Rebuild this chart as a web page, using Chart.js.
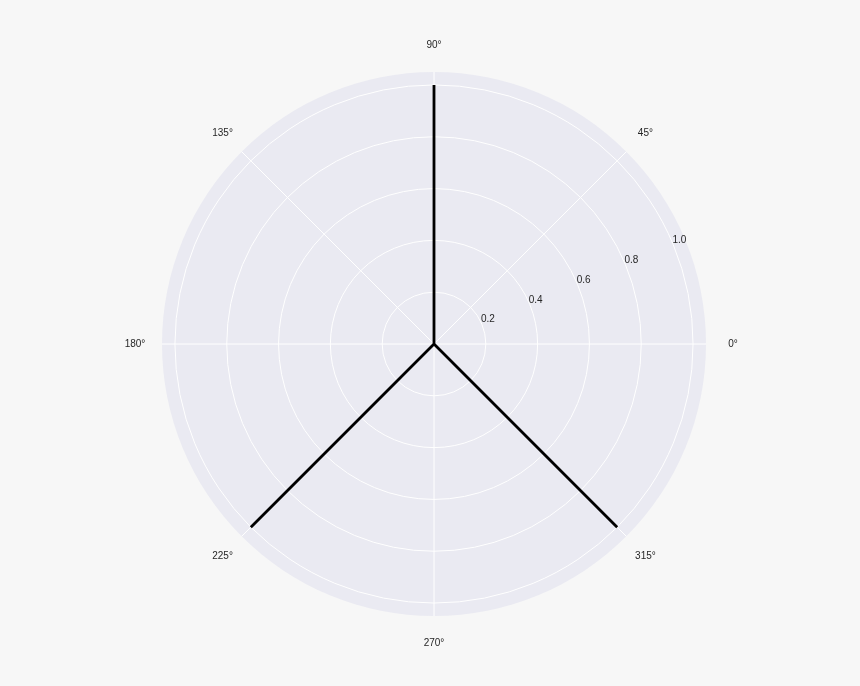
<!DOCTYPE html>
<html>
<head>
<meta charset="utf-8">
<script src="https://cdn.jsdelivr.net/npm/chart.js@4"></script>
<style>
  html, body { margin: 0; padding: 0; background: #F7F7F7; }
  #wrap { width: 860px; height: 686px; }
</style>
</head>
<body>
<div id="wrap"><canvas id="c" width="860" height="686"></canvas></div>
<script>
// Data: rays from the origin (theta in degrees, r)
const thetaDeg = [90, 225, 315];
const radius = [1.0, 1.0, 1.0];
// Angular tick positions (degrees) and labels
const angleTicks = [0, 45, 90, 135, 180, 225, 270, 315];
// Radial tick labels
const radialTicks = [0.2, 0.4, 0.6, 0.8, 1.0];
const rMax = 1.05;

// Chart.js radar goes clockwise from top: order angles 90,45,0,315,...
const order = angleTicks.map((_, i) => ((90 - 45 * i) % 360 + 360) % 360);
const labels = order.map(a => a + '°');
const values = order.map(a => {
  const k = thetaDeg.indexOf(a);
  return k >= 0 ? radius[k] : 0;
});

const labelPlugin = {
  id: 'polarLabels',
  afterDraw(chart) {
    const s = chart.scales.r;
    const ctx = chart.ctx;
    ctx.save();
    ctx.fillStyle = '#262626';
    ctx.font = '10px "Liberation Sans", Arial, sans-serif';
    ctx.textAlign = 'center';
    ctx.textBaseline = 'middle';
    // angular labels
    const dist = s.drawingArea + 27;
    order.forEach((a, i) => {
      const rad = a * Math.PI / 180;
      ctx.fillText(labels[i], s.xCenter + Math.cos(rad) * dist, s.yCenter - Math.sin(rad) * dist + 0.5);
    });
    // radial labels at 22.5 deg
    const ang = 22.5 * Math.PI / 180;
    radialTicks.forEach(v => {
      const d = s.getDistanceFromCenterForValue(v);
      ctx.fillText(v.toFixed(1), s.xCenter + Math.cos(ang) * d + 6, s.yCenter - Math.sin(ang) * d - 4.5);
    });
    ctx.restore();
  }
};

new Chart(document.getElementById('c'), {
  type: 'radar',
  data: {
    labels: labels,
    datasets: [{
      data: values,
      borderColor: '#000000',
      borderWidth: 2.8,
      fill: false,
      pointRadius: 0,
      pointHoverRadius: 0,
      tension: 0
    }]
  },
  options: {
    responsive: false,
    animation: false,
    events: [],
    layout: { padding: { left: 162, right: 154, top: 72, bottom: 70 } },
    plugins: { legend: { display: false }, tooltip: { enabled: false } },
    scales: {
      r: {
        min: 0,
        max: rMax,
        backgroundColor: '#EAEAF2',
        ticks: { display: false, stepSize: 0.2 },
        pointLabels: { display: false },
        grid: {
          circular: true,
          color: (c) => (c.tick && c.tick.value > 1.01) ? 'rgba(0,0,0,0)' : '#FFFFFF',
          lineWidth: 1
        },
        angleLines: { color: '#FFFFFF', lineWidth: 1 }
      }
    }
  },
  plugins: [labelPlugin]
});
</script>
</body>
</html>
